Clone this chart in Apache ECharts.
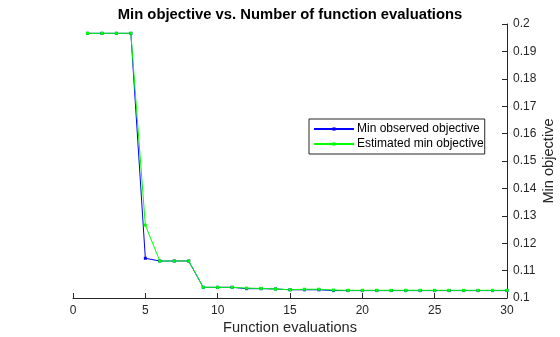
<!DOCTYPE html>
<html>
<head>
<meta charset="utf-8">
<script src="https://cdn.jsdelivr.net/npm/echarts@6/dist/echarts.min.js"></script>
<style>
html,body{margin:0;padding:0;background:#fff;}
#c{width:560px;height:337px;}
</style>
</head>
<body>
<div id="c"></div>
<script>
var evals = [1,2,3,4,5,6,7,8,9,10,11,12,13,14,15,16,17,18,19,20,21,22,23,24,25,26,27,28,29,30];
var minObserved = [0.1966,0.1966,0.1966,0.1966,0.1145,0.1135,0.1135,0.1135,0.1039,0.1039,0.1039,0.1034,0.1034,0.1033,0.1030,0.1030,0.1030,0.1027,0.1027,0.1027,0.1027,0.1027,0.1027,0.1027,0.1027,0.1027,0.1027,0.1027,0.1027,0.1027];
var estimatedMin = [0.1966,0.1966,0.1966,0.1966,0.1266,0.1135,0.1135,0.1135,0.1039,0.1039,0.1039,0.1036,0.1035,0.1033,0.1030,0.1032,0.1032,0.1029,0.1028,0.1028,0.1028,0.1028,0.1028,0.1028,0.1028,0.1028,0.1028,0.1028,0.1028,0.1028];
var seriesNames = ['Min observed objective','Estimated min objective'];
var titleText = 'Min objective vs. Number of function evaluations';

function pairs(xs, ys){ return xs.map(function(x,i){ return [x, ys[i]]; }); }

var ink = '#262626';
var font = 'Liberation Sans, Arial, Helvetica, sans-serif';
var chart = echarts.init(document.getElementById('c'), null, {renderer:'canvas'});
chart.setOption({
  animation:false,
  backgroundColor:'#fff',
  textStyle:{fontFamily:font},
  title:{
    text:titleText, left:290, top:7, padding:0, textAlign:'center',
    textStyle:{fontSize:14.8, fontWeight:'bold', color:'#000', fontFamily:font}
  },
  grid:{left:73, right:53, top:24, bottom:39, containLabel:false, outerBoundsMode:'none'},
  legend:{
    orient:'vertical', left:309, top:119,
    data:seriesNames,
    backgroundColor:'#fff', borderColor:ink, borderWidth:1,
    padding:[3,1,3,4], itemGap:1, itemWidth:40, itemHeight:4,
    textStyle:{fontSize:12, color:'#000', fontFamily:font, padding:[0,0,0,-2], height:14, lineHeight:14}
  },
  xAxis:{
    type:'value', min:0, max:30, interval:5,
    name:'Function evaluations', nameLocation:'middle', nameGap:22, nameMoveOverlap:false,
    nameTextStyle:{fontSize:14.6, color:ink, fontFamily:font},
    axisLine:{show:true, onZero:false, lineStyle:{color:ink, width:1}},
    axisTick:{show:true, inside:true, length:5, lineStyle:{color:ink}},
    axisLabel:{fontSize:12, color:ink, margin:7, fontFamily:font},
    splitLine:{show:false}
  },
  yAxis:{
    type:'value', position:'right', min:0.1, max:0.2, interval:0.01,
    name:'Min objective', nameLocation:'middle', nameGap:34, nameRotate:90, nameMoveOverlap:false,
    nameTextStyle:{fontSize:14.6, color:ink, fontFamily:font},
    axisLine:{show:true, onZero:false, lineStyle:{color:ink, width:1}},
    axisTick:{show:true, inside:true, length:5, lineStyle:{color:ink}},
    axisLabel:{fontSize:12, color:ink, margin:6, fontFamily:font,
      formatter:function(v){ return String(+v.toFixed(2)); }},
    splitLine:{show:false}
  },
  series:[
    {name:seriesNames[0], type:'line', data:pairs(evals,minObserved),
     color:'#0000ff', symbol:'rect', symbolSize:3, showSymbol:true,
     lineStyle:{width:1, color:'#0000ff'}, itemStyle:{color:'#0000ff'}},
    {name:seriesNames[1], type:'line', data:pairs(evals,estimatedMin),
     color:'#00ff00', symbol:'rect', symbolSize:3, showSymbol:true,
     lineStyle:{width:1, color:'#00ff00'}, itemStyle:{color:'#00ff00'}}
  ]
});
</script>
</body>
</html>
